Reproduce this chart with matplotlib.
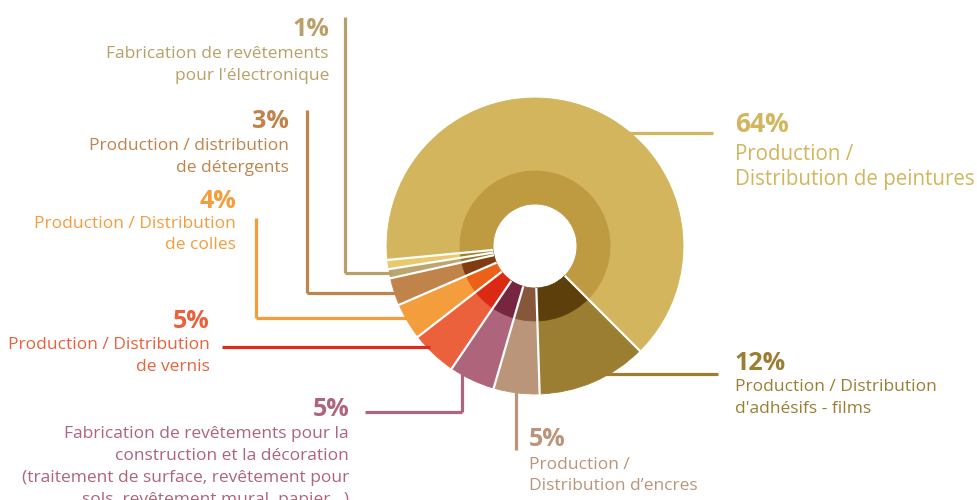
import numpy as np
import matplotlib
matplotlib.use("Agg")
import matplotlib.pyplot as plt

plt.rcParams['font.family'] = ['Open Sans', 'DejaVu Sans']

# ---- data (counter-clockwise from the big slice) ----
categories = ["Production / Distribution de peintures", "Autres",
              "Fabrication de revêtements pour l'électronique",
              "Production / distribution de détergents",
              "Production / Distribution de colles",
              "Production / Distribution de vernis",
              "Fabrication de revêtements pour la construction et la décoration",
              "Production / Distribution d'encres",
              "Production / Distribution d'adhésifs - films"]
values = [64, 1, 1, 3, 4, 5, 5, 5, 12]
pct_labels = ["64%", "", "1%", "3%", "4%", "5%", "5%", "5%", "12%"]
outer_colors = ['#d2b55c', '#e9c96c', '#bca56e', '#c0844b', '#f49d3d',
                '#ea613c', '#ae647a', '#ba957a', '#9b7e32']
inner_colors = ['#be9a40', '#a67e2a', '#95742e', '#7f3b12', '#ea6117',
                '#db2a14', '#76263f', '#86573b', '#5d3f0c']
text_colors = ['#d2b55c', None, '#b9a068', '#c0844b', '#f49d3d',
               '#ea613c', '#ae647a', '#ba957a', '#9b7e32']
line_colors = ['#d2b55c', None, '#b9a068', '#c0844b', '#f49d3d',
               '#dd2b17', '#ae647a', '#ba957a', '#9b7e32']
label_lines = [["Production /", "Distribution de peintures"],
               None,
               ["Fabrication de revêtements", "pour l'électronique"],
               ["Production / distribution", "de détergents"],
               ["Production / Distribution", "de colles"],
               ["Production / Distribution", "de vernis"],
               ["Fabrication de revêtements pour la", "construction et la décoration",
                "(traitement de surface, revêtement pour", "sols, revêtement mural, papier…)"],
               ["Production /", "Distribution d’encres"],
               ["Production / Distribution", "d'adhésifs - films"]]

W, H = 978, 500
fig = plt.figure(figsize=(W / 100, H / 100), dpi=100)
ax = fig.add_axes([0, 0, 1, 1])

def Y(yp):
    return H - yp

cx, cy = 535, 246
R_out, R_in, R_hole = 148, 75, 42
start = -45

w1, _ = ax.pie(values, colors=outer_colors, radius=R_out, center=(cx, Y(cy)),
               startangle=start, counterclock=True,
               wedgeprops=dict(width=R_out - R_in, linewidth=0.6),
               frame=True)
w2, _ = ax.pie(values, colors=inner_colors, radius=R_in, center=(cx, Y(cy)),
               startangle=start, counterclock=True,
               wedgeprops=dict(width=R_in - R_hole, linewidth=0.6),
               frame=True)
for w in list(w1) + list(w2):
    w.set_edgecolor(w.get_facecolor())
ax.set_xlim(0, W)
ax.set_ylim(0, H)
ax.set_aspect('equal')
ax.axis('off')

# white radial separators
cum = np.cumsum([0] + values)
for c in cum[:-1]:
    a = np.deg2rad(start + 360.0 * c / sum(values))
    ax.plot([cx + R_hole * np.cos(a), cx + (R_out + 1) * np.cos(a)],
            [Y(cy) + R_hole * np.sin(a), Y(cy) + (R_out + 1) * np.sin(a)],
            color='white', lw=1.6, zorder=3, solid_capstyle='butt')

def circ_x(yp, side):
    dy = yp - cy
    return cx + side * np.sqrt(R_out ** 2 - dy ** 2)

def circ_y(xp):
    dx = xp - cx
    return cy + np.sqrt(R_out ** 2 - dx ** 2)

lw = 2.3
def seg(xs, ys, c):
    ax.plot(xs, [Y(v) for v in ys], color=c, lw=lw, solid_capstyle='butt', zorder=1)

# leader lines
seg([circ_x(133, 1) - 3, 713], [133, 133], line_colors[0])
seg([circ_x(374, 1) - 3, 718], [374, 374], line_colors[8])
seg([516, 516], [circ_y(516) - 3, 450], line_colors[7])
seg([365, 462], [412, 412], line_colors[6])
seg([462, 462], [412, circ_y(462) - 3], line_colors[6])
seg([222, circ_x(347, -1) + 3], [347, 347], line_colors[5])
seg([256, 256], [218, 318], line_colors[4])
seg([256, circ_x(318, -1) + 3], [318, 318], line_colors[4])
seg([307, 307], [110, 293], line_colors[3])
seg([307, circ_x(293, -1) + 3], [293, 293], line_colors[3])
seg([345, 345], [17, 273], line_colors[2])
seg([345, circ_x(273, -1) + 3], [273, 273], line_colors[2])

# label layout: (x, y of pct, ha, line y list, pct size, text size)
layout = {
    0: (735, 125, 'left', [154, 179], 19, 14.8),
    2: (329, 30, 'right', [54, 76], 18, 12.5),
    3: (289, 122, 'right', [146, 168], 18, 12.5),
    4: (236, 201, 'right', [224, 245], 18, 12.5),
    5: (210, 321, 'right', [345, 367], 18, 12.5),
    6: (349, 409, 'right', [434, 456, 478, 500], 18, 12.5),
    7: (529, 439, 'left', [465, 486], 18, 12.5),
    8: (735, 363, 'left', [387, 409], 18, 12.5),
}
for i, (x, yp, ha, ys, ps, ts) in layout.items():
    ax.text(x, Y(yp), pct_labels[i], color=text_colors[i], fontsize=ps,
            fontweight='bold', ha=ha, va='center')
    for t, yy in zip(label_lines[i], ys):
        ax.text(x, Y(yy), t, color=text_colors[i], fontsize=ts,
                fontweight='medium', ha=ha, va='center')

fig.savefig("out.png", dpi=100)
